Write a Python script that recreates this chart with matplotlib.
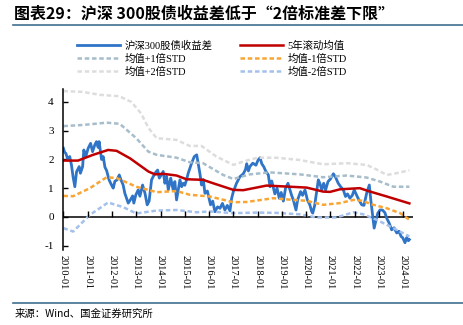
import matplotlib
matplotlib.use('Agg')
import matplotlib.pyplot as plt
from matplotlib.lines import Line2D

CJK = ['Liberation Serif', 'Noto Sans CJK SC', 'DejaVu Sans']
plt.rcParams['font.family'] = CJK

BLUE, RED = '#2f74c6', '#c00000'
P1, P2 = '#a7bdcb', '#dddddd'
M1, M2 = '#f9a534', '#a3c1ea'
RULE = '#3f6f8f'

# 沪深300股债收益差 (%), 时间用小数年份表示
SPREAD_T = [2010.00, 2010.05, 2010.10, 2010.19, 2010.26, 2010.33, 2010.40, 2010.47, 2010.54, 2010.65,
            2010.70, 2010.79, 2010.84, 2010.92, 2011.02, 2011.12, 2011.20, 2011.29, 2011.36, 2011.43,
            2011.47, 2011.57, 2011.64, 2011.71, 2011.78, 2011.88, 2011.98, 2012.05, 2012.12, 2012.21,
            2012.30, 2012.37, 2012.46, 2012.53, 2012.60, 2012.67, 2012.77, 2012.85, 2012.90, 2012.98,
            2013.08, 2013.15, 2013.26, 2013.36, 2013.45, 2013.53, 2013.63, 2013.77, 2013.88, 2013.95,
            2014.11, 2014.18, 2014.25, 2014.32, 2014.42, 2014.52, 2014.59, 2014.66, 2014.73, 2014.80,
            2014.87, 2014.94, 2015.00, 2015.07, 2015.14, 2015.21, 2015.28, 2015.39, 2015.49, 2015.55,
            2015.62, 2015.69, 2015.76, 2015.83, 2015.93, 2016.06, 2016.15, 2016.24, 2016.35, 2016.45,
            2016.55, 2016.65, 2016.75, 2016.86, 2016.93, 2017.00, 2017.13, 2017.27, 2017.41, 2017.50,
            2017.55, 2017.62, 2017.68, 2017.80, 2017.93, 2018.02, 2018.10, 2018.17, 2018.25, 2018.33,
            2018.44, 2018.51, 2018.58, 2018.71, 2018.80, 2018.89, 2018.97, 2019.06, 2019.15, 2019.25,
            2019.33, 2019.40, 2019.47, 2019.58, 2019.65, 2019.77, 2019.85, 2019.95, 2020.05, 2020.15,
            2020.23, 2020.27, 2020.35, 2020.45, 2020.50, 2020.57, 2020.64, 2020.72, 2020.80, 2020.90,
            2021.00, 2021.12, 2021.20, 2021.32, 2021.42, 2021.53, 2021.62, 2021.70, 2021.80, 2021.90,
            2021.98, 2022.08, 2022.17, 2022.29, 2022.38, 2022.49, 2022.60, 2022.66, 2022.73, 2022.80,
            2022.88, 2022.95, 2023.04, 2023.14, 2023.24, 2023.32, 2023.42, 2023.52, 2023.62, 2023.73,
            2023.82, 2023.91, 2023.98, 2024.07, 2024.14, 2024.21, 2024.25]
SPREAD = [2.39, 2.25, 2.21, 1.98, 2.10, 1.81, 1.38, 1.05, 1.57, 1.75,
          1.52, 1.75, 2.33, 2.10, 2.39, 2.56, 2.27, 2.50, 2.62, 2.42,
          2.62, 2.00, 2.10, 1.73, 1.61, 1.29, 1.11, 1.00, 1.24, 1.29,
          1.46, 1.29, 1.11, 0.82, 0.65, 0.48, 0.61, 0.73, 0.48, 0.76,
          0.94, 0.72, 1.11, 0.82, 0.42, 0.55, 1.29, 1.52, 1.63, 1.35,
          1.58, 1.17, 1.41, 0.94, 1.35, 0.94, 1.23, 0.59, 0.94, 1.29,
          1.05, 1.17, 1.10, 1.29, 1.52, 1.69, 1.87, 2.10, 2.16, 1.87,
          1.52, 1.11, 1.30, 0.82, 0.90, 0.42, 0.55, 0.18, 0.35, 0.30,
          0.47, 0.24, 0.40, 0.21, 0.65, 0.88, 1.17, 1.40, 1.50, 1.65,
          1.85, 1.60, 1.75, 1.87, 1.80, 1.98, 2.06, 1.85, 1.75, 1.60,
          1.46, 1.05, 1.25, 0.80, 1.00, 0.65, 0.85, 0.55, 1.00, 1.17,
          0.95, 0.75, 0.59, 0.24, 0.60, 0.88, 0.75, 0.94, 0.59, 0.42,
          0.18, 0.13, 0.40, 1.00, 1.29, 1.15, 0.94, 1.17, 0.94, 1.23,
          1.32, 1.50, 1.40, 1.17, 1.05, 0.94, 0.71, 0.80, 0.65, 0.75,
          0.94, 0.75, 0.59, 0.42, 0.40, 0.82, 1.11, 0.60, 0.10, -0.39,
          -0.10, 0.13, 0.24, 0.24, 0.15, -0.05, -0.22, -0.45, -0.38, -0.56,
          -0.50, -0.68, -0.73, -0.90, -0.72, -0.83, -0.79]

# 5年滚动均值
MEAN_T = [2010.0, 2010.6, 2011.22, 2011.84, 2012.19, 2012.74, 2013.5, 2013.77, 2014.11, 2014.66,
          2015.07, 2015.75, 2016.17, 2017.0, 2017.41, 2018.37, 2019.33, 2020.02, 2020.7, 2020.98,
          2021.39, 2022.21, 2022.56, 2023.32, 2024.25]
MEAN = [1.96, 1.96, 2.16, 2.33, 2.30, 2.04, 1.58, 1.48, 1.50, 1.44,
        1.31, 1.29, 1.17, 0.94, 0.93, 1.09, 1.05, 1.02, 0.88, 0.87,
        0.96, 1.00, 0.90, 0.71, 0.47]

# 均值+1倍STD
UP1_T = [2010.0, 2010.8, 2011.78, 2012.32, 2013.0, 2013.5, 2013.84, 2014.66, 2015.21, 2015.75,
         2016.58, 2017.0, 2017.68, 2018.5, 2019.74, 2020.7, 2021.67, 2022.49, 2023.04, 2023.59, 2024.25]
UP1 = [3.16, 3.20, 3.28, 3.24, 2.74, 2.27, 2.16, 2.06, 1.90, 1.87,
       1.46, 1.32, 1.48, 1.55, 1.48, 1.38, 1.44, 1.37, 1.23, 1.05, 1.05]

# 均值+2倍STD
UP2_T = [2010.0, 2010.8, 2011.5, 2012.3, 2012.8, 2013.2, 2013.5, 2013.84, 2014.66, 2015.2,
         2015.69, 2016.3, 2017.0, 2017.5, 2018.0, 2018.78, 2019.74, 2020.7, 2021.67, 2022.49,
         2022.9, 2023.32, 2023.6, 2024.25]
UP2 = [4.38, 4.35, 4.25, 4.20, 4.00, 3.60, 3.10, 2.74, 2.68, 2.47,
       2.47, 2.10, 1.81, 1.95, 2.06, 2.06, 1.98, 1.83, 1.87, 1.81,
       1.65, 1.46, 1.50, 1.62]

# 均值-1倍STD
DN1_T = [2010.0, 2010.4, 2011.09, 2011.78, 2012.2, 2013.0, 2013.5, 2013.84, 2014.66, 2015.2,
         2016.03, 2017.0, 2017.55, 2018.64, 2019.33, 2020.02, 2020.7, 2021.39, 2021.94, 2022.3,
         2022.77, 2023.32, 2023.87, 2024.25]
DN1 = [0.73, 0.72, 1.00, 1.38, 1.35, 1.05, 0.94, 0.86, 0.90, 0.77,
       0.71, 0.51, 0.52, 0.65, 0.60, 0.56, 0.42, 0.48, 0.59, 0.56,
       0.42, 0.30, 0.13, -0.10]

# 均值-2倍STD
DN2_T = [2010.0, 2010.4, 2011.09, 2011.84, 2012.46, 2013.0, 2013.84, 2014.66, 2015.49, 2016.03,
         2017.0, 2017.96, 2018.78, 2019.74, 2020.43, 2021.25, 2021.94, 2022.35, 2022.9, 2023.59, 2024.25]
DN2 = [-0.39, -0.51, 0.07, 0.50, 0.34, 0.12, 0.22, 0.24, 0.16, 0.19,
       0.13, 0.15, 0.14, 0.09, -0.02, -0.02, 0.16, 0.09, -0.10, -0.39, -0.68]

YEARS = list(range(2010, 2025))
YTICKS = [-1, 0, 1, 2, 3, 4]

fig = plt.figure(figsize=(4.63, 3.25), dpi=100)
ax = fig.add_axes([0.137, 0.231, 0.755, 0.495])

dash = dict(lw=1.8, dashes=(1.8, 1.1))
ax.plot(SPREAD_T, SPREAD, color=BLUE, lw=2.0, label='沪深300股债收益差')
ax.plot(MEAN_T, MEAN, color=RED, lw=1.8, label='5年滚动均值')
ax.plot(UP1_T, UP1, color=P1, label='均值+1倍STD', **dash)
ax.plot(DN1_T, DN1, color=M1, label='均值-1倍STD', **dash)
ax.plot(UP2_T, UP2, color=P2, label='均值+2倍STD', **dash)
ax.plot(DN2_T, DN2, color=M2, label='均值-2倍STD', **dash)

# 横轴画在 0 处, 年份刻度朝上
ax.axhline(0, color='black', lw=1.1, zorder=1)
ax.plot(YEARS, [0] * len(YEARS), ls='none', marker=2, ms=4, mew=1.0, color='black')

ax.set_xlim(2010, 2024.4)
ax.set_ylim(-1.15, 4.45)
ax.set_xticks(YEARS)
ax.set_xticklabels([f'{y}-01' for y in YEARS], rotation=-90, fontsize=7.5)
ax.set_yticks(YTICKS)
ax.set_yticklabels([str(v) for v in YTICKS], fontsize=8)
ax.tick_params(axis='x', length=0, pad=4)
ax.tick_params(axis='y', direction='in', length=3.5, width=1.0, pad=7)
for s in ['top', 'right', 'bottom']:
    ax.spines[s].set_visible(False)
ax.spines['left'].set_linewidth(1.1)

# 图例分两列
h = {l.get_label(): l for l in ax.get_lines()}
col1 = ['沪深300股债收益差', '均值+1倍STD', '均值+2倍STD']
col2 = ['5年滚动均值', '均值-1倍STD', '均值-2倍STD']
for names, x0 in [(col1, 0.166), (col2, 0.518)]:
    fig.legend([h[n] for n in names], names, loc='upper left', bbox_to_anchor=(x0, 0.876),
               frameon=False, fontsize=7.5, handlelength=4.1, handletextpad=0.5,
               labelspacing=0.3, borderaxespad=0, borderpad=0)

fig.text(0.03, 0.958, '图表29：沪深 300股债收益差低于“2倍标准差下限”', fontsize=11.5,
         fontweight='bold', style='italic', family=['Noto Sans CJK SC', 'DejaVu Sans'],
         va='center', ha='left')
fig.add_artist(Line2D([0.028, 1.0], [0.922, 0.922], color=RULE, lw=1.2))
fig.add_artist(Line2D([0.028, 1.0], [0.069, 0.069], color=RULE, lw=1.2))
fig.text(0.032, 0.036, '来源：Wind、国金证券研究所', fontsize=7.5,
         family=['Noto Sans CJK SC', 'DejaVu Sans'], va='center', ha='left')

fig.savefig('out.png', dpi=100, facecolor='white')
